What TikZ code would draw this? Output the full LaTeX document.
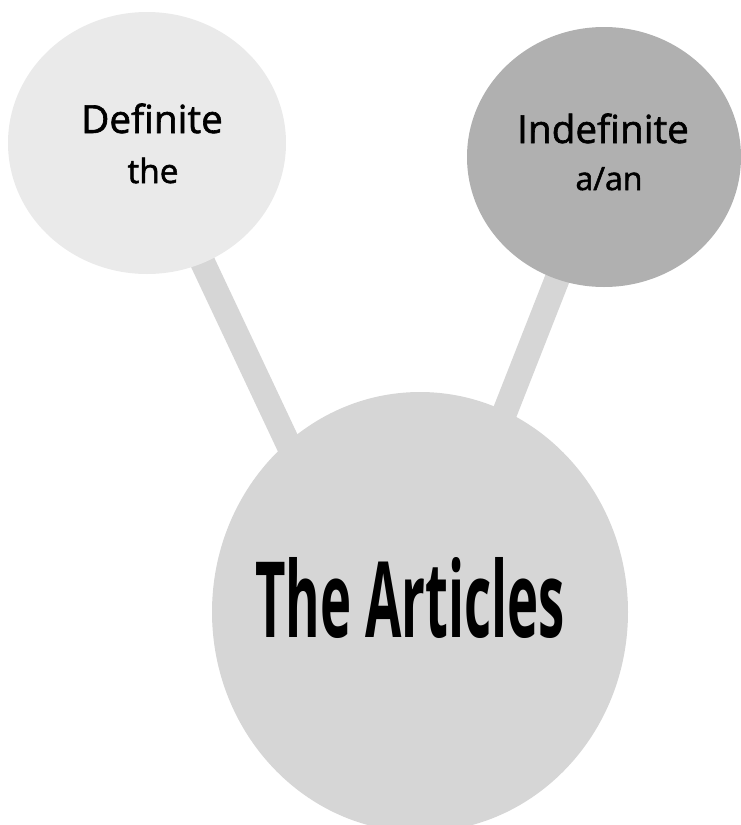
\documentclass[tikz,border=0pt]{standalone}
\usepackage{fontspec}
\setmainfont{Open Sans}
\newfontfamily\labelfont{Open Sans}[FakeBold=1.6]
\usetikzlibrary{shapes.geometric,backgrounds}
\definecolor{pale}{HTML}{EAEAEA}
\definecolor{mid}{HTML}{B0B0B0}
\definecolor{soft}{HTML}{D6D6D6}
\begin{document}
\begin{tikzpicture}[x=0.75pt,y=-0.75pt,
                    bubble/.style={shape=ellipse,draw=none,inner sep=0pt},
                    link/.style={draw=soft,line width=18.75pt,
                                 shorten <=-10pt,shorten >=-10pt},
                    every node/.style={align=center,text=black}]
  \useasboundingbox (0,0) rectangle (740,825);
  \node[bubble,fill=pale,minimum width=208.5pt,minimum height=196.5pt] (def) at (147,143) {};
  \node[bubble,fill=mid,minimum width=205.5pt,minimum height=195pt] (indef) at (604,157) {};
  \node[bubble,fill=soft,minimum width=312pt,minimum height=330pt] (art) at (420,612) {};
  \node[anchor=base,font=\labelfont\fontsize{29}{34}\selectfont] (deftitle) at (152,133) {Definite};
  \node[anchor=base,font=\labelfont\fontsize{25}{30}\selectfont] (defword) at (153,183) {the};
  \node[anchor=base,font=\labelfont\fontsize{29}{34}\selectfont] (indeftitle) at (603,143) {Indefinite};
  \node[anchor=base,font=\labelfont\fontsize{24}{29}\selectfont] (indefword) at (609,190) {a/an};
  \node[anchor=base,font=\bfseries\fontsize{79}{90}\selectfont] (arttitle) at (410,637)
    {\scalebox{0.5}[1]{The Articles}};
  \begin{scope}[on background layer]
    \draw[link] (def.-65) -- (art.128);
    \draw[link] (indef.249) -- (art.67);
  \end{scope}
\end{tikzpicture}
\end{document}
